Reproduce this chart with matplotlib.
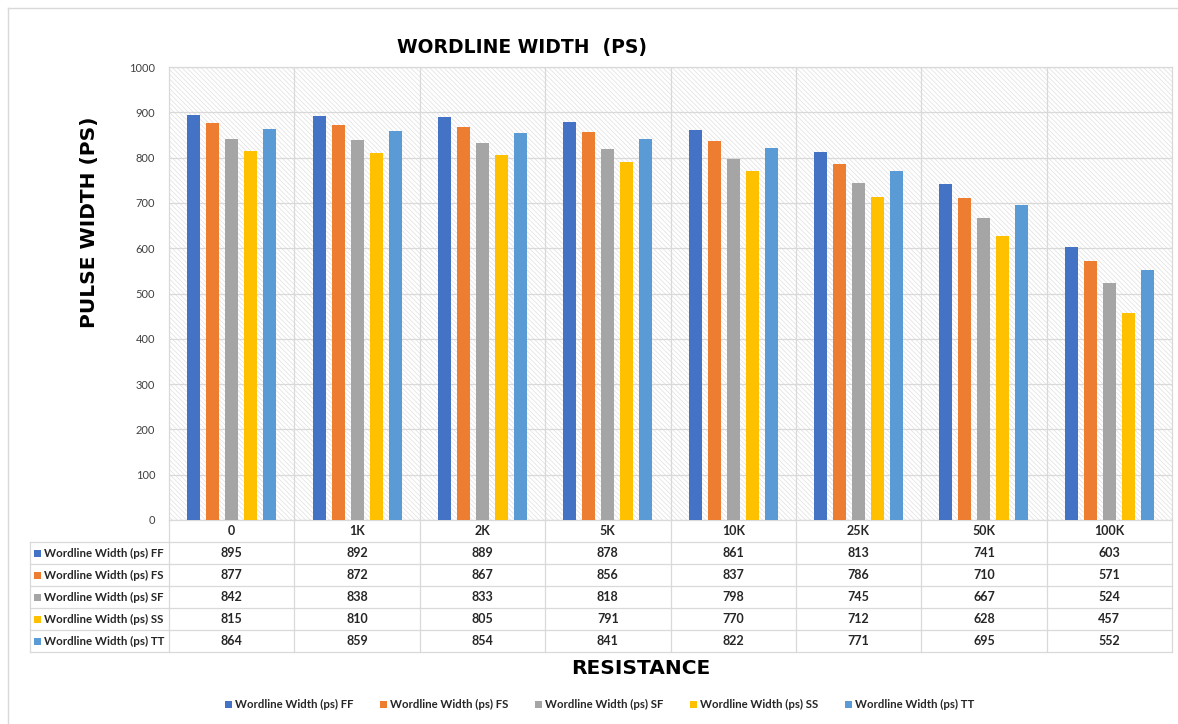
import numpy as np
import matplotlib
matplotlib.use("Agg")
import matplotlib.pyplot as plt
from matplotlib.patches import Rectangle

# Wordline width per corner vs series resistance
resistance = ["0", "1K", "2K", "5K", "10K", "25K", "50K", "100K"]

series_names = [
    "Wordline Width (ps) FF",
    "Wordline Width (ps) FS",
    "Wordline Width (ps) SF",
    "Wordline Width (ps) SS",
    "Wordline Width (ps) TT",
]

width_ff = [895, 892, 889, 878, 861, 813, 741, 603]
width_fs = [877, 872, 867, 856, 837, 786, 710, 571]
width_sf = [842, 838, 833, 818, 798, 745, 667, 524]
width_ss = [815, 810, 805, 791, 770, 712, 628, 457]
width_tt = [864, 859, 854, 841, 822, 771, 695, 552]

y_ticks = [0, 100, 200, 300, 400, 500, 600, 700, 800, 900, 1000]

series_values = [width_ff, width_fs, width_sf, width_ss, width_tt]
colors = ["#4472C4", "#ED7D31", "#A5A5A5", "#FFC000", "#5B9BD5"]

GRID = "#d9d9d9"
TEXT_FONT = ["Lato", "DejaVu Sans"]
HEAD_FONT = ["DejaVu Sans"]

plt.rcParams["hatch.color"] = "#e0e0e0"
plt.rcParams["hatch.linewidth"] = 0.5

W, H = 1178, 724
fig = plt.figure(figsize=(W / 100, H / 100), dpi=100)


def fx(px):
    return px / W


def fy(py):
    return 1 - py / H


# plot area in pixel terms
left, right, top, bottom = 169, 1172, 67, 520
ax = fig.add_axes([fx(left), fy(bottom), fx(right - left), (bottom - top) / H])

n_cat = len(resistance)
ax.set_xlim(0, n_cat)
ax.set_ylim(0, 1000)

# hatched background
ax.add_patch(
    Rectangle(
        (0, 0), 1, 1,
        transform=ax.transAxes,
        facecolor="white",
        edgecolor="#e0e0e0",
        hatch="\\" * 7,
        linewidth=0,
        zorder=0,
    )
)

for y in y_ticks:
    ax.axhline(y, color=GRID, lw=0.9, zorder=1)
for i in range(1, n_cat):
    ax.axvline(i, color=GRID, lw=0.9, zorder=1)

step = 19 / ((right - left) / n_cat)
bar_w = 13 / ((right - left) / n_cat)
centers = np.arange(n_cat) + 0.5

for k, (vals, col) in enumerate(zip(series_values, colors)):
    ax.bar(
        centers + (k - 2) * step,
        vals,
        width=bar_w,
        color=col,
        zorder=3,
    )

ax.set_xticks([])
ax.set_yticks(y_ticks)
ax.set_yticklabels([str(v) for v in y_ticks], fontsize=8, color="#404040",
                   family=TEXT_FONT)
ax.tick_params(axis="y", length=0, pad=10)
for s in ax.spines.values():
    s.set_color(GRID)
    s.set_linewidth(0.9)

# data table under the chart
t_left, t_bottom = 30, 652
tab = fig.add_axes([fx(t_left), fy(t_bottom), fx(right - t_left), (t_bottom - bottom) / H])
x0 = -(left - t_left) / ((right - left) / n_cat)
tab.set_xlim(x0, n_cat)
tab.set_ylim(6, 0)
tab.axis("off")

for r in range(1, 7):
    tab.plot([x0, n_cat], [r, r], color=GRID, lw=0.9, clip_on=False)
tab.plot([x0, x0], [1, 6], color=GRID, lw=0.9, clip_on=False)
for i in range(0, n_cat + 1):
    tab.plot([i, i], [0, 6], color=GRID, lw=0.9, clip_on=False)

for i, name in enumerate(resistance):
    tab.text(i + 0.5, 0.5, name, ha="center", va="center", fontsize=9,
             fontweight="bold", color="#262626", family=TEXT_FONT)

for k, (name, vals, col) in enumerate(zip(series_names, series_values, colors)):
    row = k + 1.5
    fig.add_artist(
        Rectangle(
            (fx(34), fy(542 + 22 * k + 15)), fx(7), 7 / H,
            transform=fig.transFigure, facecolor=col, edgecolor="none",
        )
    )
    tab.text(x0 + 14 / 125.375, row, name, ha="left", va="center", fontsize=8.3,
             fontweight="bold", color="#262626", family=TEXT_FONT)
    for i, v in enumerate(vals):
        tab.text(i + 0.5, row, str(v), ha="center", va="center", fontsize=9,
                 fontweight="bold", color="#262626", family=TEXT_FONT)

# titles
fig.text(fx(522), fy(47), "WORDLINE WIDTH  (PS)", ha="center", va="center",
         fontsize=13.5, fontweight="bold", family=HEAD_FONT)
fig.text(fx(90), fy(222), "PULSE WIDTH (PS)", ha="center", va="center",
         rotation=90, fontsize=14.5, fontweight="bold", family=HEAD_FONT)
fig.text(fx(641), fy(668), "RESISTANCE", ha="center", va="center",
         fontsize=14.5, fontweight="bold", family=HEAD_FONT)

# legend
for k, (name, col) in enumerate(zip(series_names, colors)):
    lx = 225 + 155 * k
    fig.add_artist(
        Rectangle(
            (fx(lx), fy(708)), fx(7), 7 / H,
            transform=fig.transFigure, facecolor=col, edgecolor="none",
        )
    )
    fig.text(fx(lx + 10), fy(704), name, ha="left", va="center", fontsize=8.2,
             fontweight="bold", color="#262626", family=TEXT_FONT)

# outer frame
fig.add_artist(plt.Line2D([fx(8), 1], [fy(8), fy(8)], color="#d9d9d9", lw=1,
                          transform=fig.transFigure))
fig.add_artist(plt.Line2D([fx(8), fx(8)], [fy(8), 0], color="#d9d9d9", lw=1,
                          transform=fig.transFigure))

fig.savefig("out.png", dpi=100, facecolor="white")
